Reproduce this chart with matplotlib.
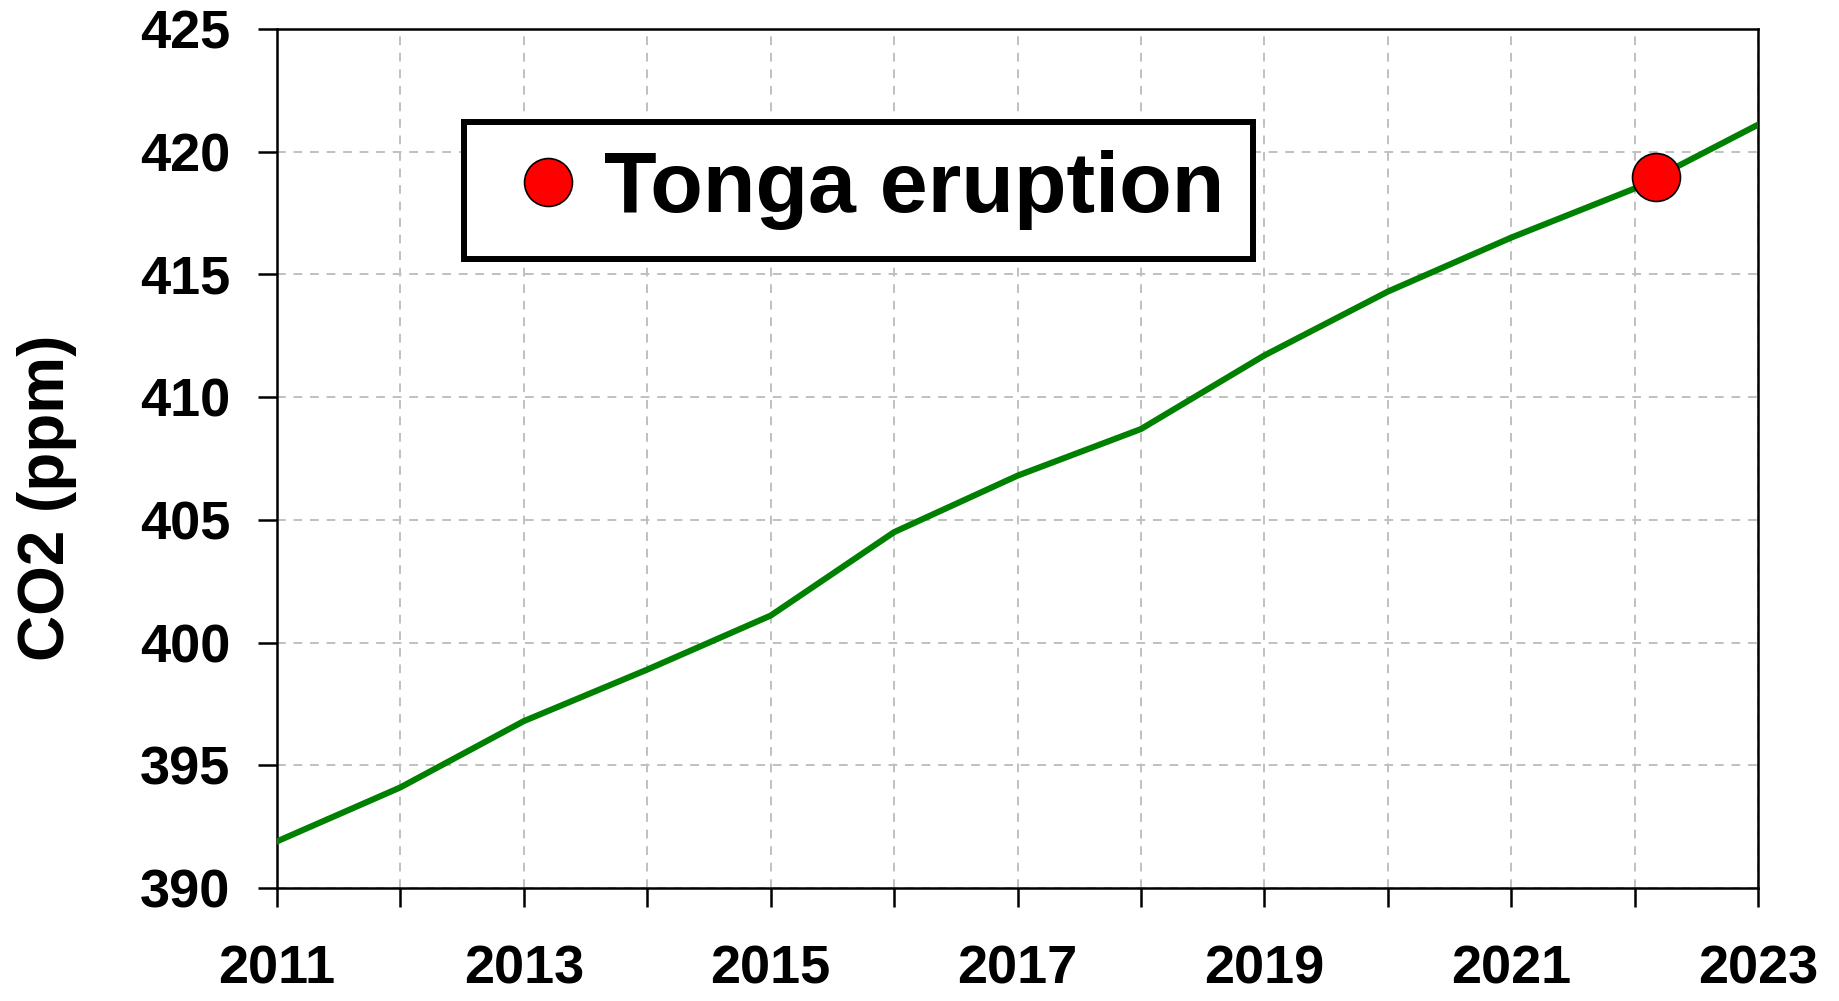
import numpy as np
import matplotlib
matplotlib.use("Agg")
import matplotlib.pyplot as plt

# annual CO2 (ppm)
years = [2011, 2012, 2013, 2014, 2015, 2016, 2017, 2018, 2019, 2020, 2021, 2022, 2023]
co2 = [391.9, 394.1, 396.8, 398.9, 401.1, 404.5, 406.8, 408.7, 411.7, 414.3, 416.5, 418.5, 421.1]

# the eruption marker
event_x = [2022.17]
event_y = [418.95]
event_label = "Tonga eruption"

year_labels = [str(y) if y % 2 == 1 else "" for y in years]
co2_ticks = [390, 395, 400, 405, 410, 415, 420, 425]

plt.rcParams["font.family"] = ["Liberation Sans", "DejaVu Sans"]
plt.rcParams["font.weight"] = "bold"

fig = plt.figure(figsize=(18.39, 10.01), dpi=100)
ax = fig.add_axes([277 / 1839, 1 - 888 / 1001, 1481 / 1839, 859 / 1001])

ax.plot(years, co2, color="#008000", lw=4.4, zorder=3)
ax.plot(event_x, event_y, "o", color="red", markeredgecolor="black",
        markeredgewidth=1.2, markersize=34.5, linestyle="None",
        label=event_label, zorder=4)

ax.set_xlim(2011, 2023)
ax.set_ylim(390, 425)
ax.set_xticks(years)
ax.set_xticklabels(year_labels)
ax.set_yticks(co2_ticks)

ax.grid(True, color="#c0c0c0", linestyle=(0, (4.5, 4)), linewidth=1.4, zorder=0)
for s in ax.spines.values():
    s.set_linewidth(1.8)
    s.set_color("black")

ax.tick_params(axis="both", direction="out", length=13.5, width=1.8,
               labelsize=39, colors="black")
ax.tick_params(axis="x", pad=27)
ax.tick_params(axis="y", pad=20)
for lbl in ax.get_xticklabels() + ax.get_yticklabels():
    lbl.set_fontweight("bold")

fig.text(47 / 1839, 1 - 498 / 1001, "CO2 (ppm)", rotation=90, fontsize=46,
         fontweight="bold", ha="center", va="center")

leg = ax.legend(loc="upper left", bbox_to_anchor=(0.1263, 0.8917),
                borderaxespad=0, frameon=True, fancybox=False,
                borderpad=0.33, handlelength=1.3, handletextpad=0.0,
                prop={"size": 62, "weight": "bold"})
leg.get_frame().set_edgecolor("black")
leg.get_frame().set_linewidth(4.3)
leg.get_frame().set_alpha(1)

fig.savefig("out.png", dpi=100)
